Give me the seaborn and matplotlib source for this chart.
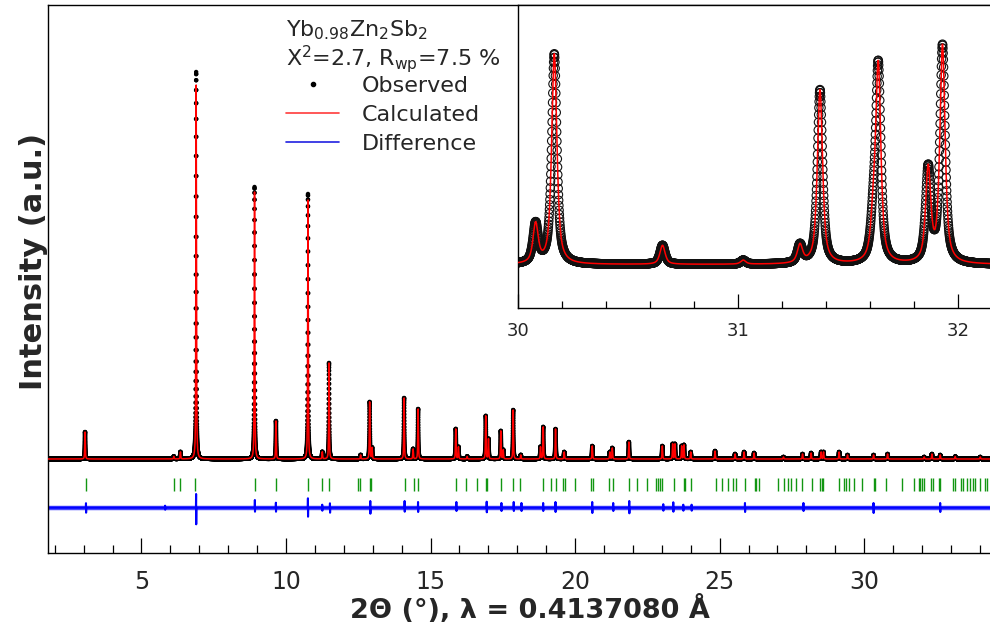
import numpy as np
import pandas as pd
import matplotlib
matplotlib.use("Agg")
import matplotlib.pyplot as plt
import seaborn as sns
from matplotlib.lines import Line2D
from matplotlib.ticker import MultipleLocator

# ------------------------------------------------------------------
# Data
# ------------------------------------------------------------------
# Main pattern: peak positions (2theta, deg) and heights above background (a.u.)
PEAK_POS = [3.048, 6.120, 6.348, 6.892, 8.911, 9.652, 10.760, 11.255, 11.487,
            12.581, 12.893, 12.976, 14.084, 14.396, 14.569, 15.871, 15.964,
            16.265, 16.909, 17.003, 17.429, 17.512, 17.858, 18.121, 18.803,
            18.897, 19.323, 19.624, 20.594, 21.203, 21.286, 21.861, 23.017,
            23.374, 23.454, 23.686, 23.766, 23.999, 24.840, 25.533, 25.845,
            26.191, 27.208, 27.866, 28.164, 28.510, 28.593, 29.132, 29.423,
            30.324, 30.808, 32.076, 32.342, 32.630, 33.149, 34.015]
CALC_H = [27, 2.5, 7, 374, 267, 38, 259, 7, 96,
          4, 57, 11, 61, 10, 50, 30, 12,
          2.5, 43, 20, 28, 9, 49, 4, 12,
          32, 30, 7, 13, 7, 11, 17, 13,
          15, 15, 13, 14, 7, 8, 5, 7,
          6, 2, 5, 6, 7, 7, 7, 4,
          4, 5, 2, 5, 4, 2.5, 2]
OBS_H = [27, 2.5, 7, 387, 272, 38, 265, 7, 96,
         4, 57, 11, 61, 10, 50, 30, 12,
         2.5, 43, 20, 28, 9, 49, 4, 12,
         32, 30, 7, 13, 7, 11, 17, 13,
         15, 15, 13, 14, 7, 8, 5, 7,
         6, 2, 5, 6, 7, 7, 7, 4,
         4, 5, 2, 5, 4, 2.5, 2]
MAIN_FWHM = 0.025
MAIN_ETA = 0.5
MAIN_STEP = 0.001

# Bragg reflection markers (2theta, deg)
HKL_POS = [3.083, 6.120, 6.348, 6.868, 8.925, 9.652, 10.746, 11.255, 11.487,
           12.491, 12.546, 12.893, 12.952, 14.105, 14.416, 14.579, 15.895,
           16.241, 16.598, 16.920, 16.950, 17.429, 17.858, 18.111, 18.897,
           19.160, 19.323, 19.565, 19.645, 19.991, 20.545, 20.614, 21.182,
           21.296, 21.861, 22.138, 22.484, 22.786, 22.855, 22.924, 23.003,
           23.409, 23.766, 23.800, 24.008, 24.863, 25.095, 25.289, 25.452,
           25.556, 25.891, 26.213, 26.272, 26.376, 27.034, 27.242, 27.380,
           27.470, 27.657, 27.851, 28.187, 28.474, 28.533, 28.592, 29.132,
           29.305, 29.354, 29.468, 29.631, 29.929, 30.324, 30.379, 30.760,
           31.304, 31.708, 31.882, 31.937, 31.996, 32.075, 32.318, 32.377,
           32.585, 32.630, 33.059, 33.128, 33.346, 33.416, 33.544, 33.668,
           33.762, 33.842, 34.015, 34.188, 34.247]
HKL_Y = (-32.0, -18.7)

# Difference curve: offset and spikes (position, upward, downward amplitude)
DIFF_OFFSET = -48.7
DIFF_POS = [3.083, 5.819, 6.892, 8.925, 9.652, 10.760, 11.255, 11.522, 12.917,
            14.105, 14.569, 15.895, 16.944, 17.453, 17.879, 18.146, 18.897,
            19.323, 20.594, 21.320, 21.875, 23.052, 23.398, 23.744, 24.032,
            25.878, 27.900, 30.324, 32.630]
DIFF_UP = [4.5, 2, 13.7, 7.7, 5, 9.4, 3, 4.4, 6.7,
           6.7, 5.7, 5.7, 6, 4.7, 5.7, 4.7, 4.7,
           5.7, 5.7, 4.7, 6.7, 3.5, 5.4, 3, 3,
           4.7, 4.7, 4.7, 4.7]
DIFF_DOWN = [5, 2, 16.6, 4, 4, 9, 3, 5, 6,
             4, 4.3, 3.3, 4.6, 3.3, 3.3, 3.3, 3.3,
             4.3, 5.3, 3.3, 5.6, 3, 4, 3, 3,
             4.3, 3.3, 5.3, 4.3]

# Inset (30-32 deg) peaks
INSET_POS = [30.080, 30.165, 30.657, 31.024, 31.282, 31.373, 31.615, 31.638, 31.865, 31.930]
INSET_H = [39, 210, 19, 4, 18, 174, 35, 195, 93, 217]
INSET_BG = 43.5
INSET_FWHM = 0.028
INSET_ETA = 0.7

TITLE_LINES = ['Yb$_{0.98}$Zn$_2$Sb$_2$', '\u03a7$^2$=2.7, R$_{\\rm wp}$=7.5 %']
LABELS = ['Observed', 'Calculated', 'Difference']
XLABEL = '2\u0398 (\u00b0), \u03bb = 0.4137080 \u00c5'
YLABEL = 'Intensity (a.u.)'


def pseudo_voigt(x, pos, h, fwhm, eta):
    y = np.zeros_like(x)
    for p, a in zip(pos, h):
        d = (x - p) / fwhm
        lor = 1.0 / (1.0 + 4.0 * d ** 2)
        gau = np.exp(-4.0 * np.log(2.0) * d ** 2)
        y += a * (eta * lor + (1 - eta) * gau)
    return y


# ------------------------------------------------------------------
sns.set_theme(style="white")
plt.rcParams['font.family'] = ['DejaVu Sans']
plt.rcParams['mathtext.fontset'] = 'dejavusans'

W, H = 990, 635
fig = plt.figure(figsize=(W / 100, H / 100), dpi=100)

ax = fig.add_axes([48 / W, 1 - 553 / H, (W - 48) / W + 0.002, 548 / H])

tt = np.arange(1.70, 34.60, MAIN_STEP)
main_df = pd.DataFrame({
    'tth': tt,
    'obs': pseudo_voigt(tt, PEAK_POS, OBS_H, MAIN_FWHM, MAIN_ETA),
    'calc': pseudo_voigt(tt, PEAK_POS, CALC_H, MAIN_FWHM, MAIN_ETA),
})

sns.scatterplot(data=main_df, x='tth', y='obs', ax=ax, color='black', s=10,
                edgecolor='none', linewidth=0, legend=False, zorder=2)
sns.lineplot(data=main_df, x='tth', y='calc', ax=ax, color='red', lw=1.1,
             estimator=None, sort=False, legend=False, zorder=3)

# reflection markers
ax.vlines(HKL_POS, HKL_Y[0], HKL_Y[1], color='#129612', lw=1.0, zorder=2)

# difference curve
dx, dy = [1.70], [DIFF_OFFSET]
for p, u, d in zip(DIFF_POS, DIFF_UP, DIFF_DOWN):
    dx += [p - 0.008, p - 0.002, p + 0.002, p + 0.008]
    dy += [DIFF_OFFSET, DIFF_OFFSET + u, DIFF_OFFSET - d, DIFF_OFFSET]
dx.append(34.60)
dy.append(DIFF_OFFSET)
diff_df = pd.DataFrame({'tth': dx, 'diff': dy})
ax.axhline(DIFF_OFFSET, color='#1e1eff', lw=3.2, alpha=0.8, zorder=1)
sns.lineplot(data=diff_df, x='tth', y='diff', ax=ax, color='blue', lw=1.5,
             estimator=None, sort=False, legend=False, zorder=2)

ax.set_xlim(1.767, 34.42)
ax.set_ylim(-94, 454)
ax.set_yticks([])
ax.xaxis.set_major_locator(MultipleLocator(5))
ax.xaxis.set_minor_locator(MultipleLocator(1))
ax.tick_params(axis='x', which='both', direction='in', bottom=True, top=False,
               color='black', width=0.9)
ax.tick_params(axis='x', which='major', length=10.5, labelsize=17, pad=12)
ax.tick_params(axis='x', which='minor', length=6)
for s in ['left', 'top', 'bottom']:
    ax.spines[s].set_color('black')
    ax.spines[s].set_linewidth(1.0)
ax.spines['right'].set_visible(False)

ax.set_xlabel(XLABEL, fontsize=19.5, fontweight='bold')
ax.xaxis.set_label_coords((529 - 48) / 942, -(595 - 553) / 548)
ax.set_ylabel(YLABEL, fontsize=22, fontweight='bold')
ax.yaxis.set_label_coords(0.0, (553 - 261) / 548)

# legend title lines and legend entries
fig.text(286 / W, 1 - 36 / H, TITLE_LINES[0], fontsize=16, va='baseline', ha='left')
fig.text(286 / W, 1 - 66 / H, TITLE_LINES[1], fontsize=16, va='baseline', ha='left')
handles = [
    Line2D([], [], marker='o', ls='none', color='black', markersize=3),
    Line2D([], [], color='#ff3b3b', lw=1.2),
    Line2D([], [], color='#2020e0', lw=1.2),
]
leg = ax.legend(handles, LABELS, loc='upper left',
                bbox_to_anchor=(286 / W, 1 - 76 / H), bbox_transform=fig.transFigure,
                frameon=False, fontsize=16, numpoints=1,
                handlelength=2.4, handletextpad=1.0, labelspacing=0.405,
                borderpad=0, borderaxespad=0)

# ---------------- inset ----------------
axi = fig.add_axes([518 / W, 1 - 308 / H, (W - 518) / W + 0.002, 303 / H])
axi.set_facecolor('white')
ti = np.arange(29.99, 32.17, MAIN_STEP)
inset_df = pd.DataFrame({
    'tth': ti,
    'calc': INSET_BG + pseudo_voigt(ti, INSET_POS, INSET_H, INSET_FWHM, INSET_ETA),
})
sns.scatterplot(data=inset_df, x='tth', y='calc', ax=axi, marker='o', s=36,
                facecolor='none', edgecolor='#111111', linewidth=0.8,
                legend=False, zorder=2)
sns.lineplot(data=inset_df, x='tth', y='calc', ax=axi, color='red', lw=1.1,
             estimator=None, sort=False, legend=False, zorder=3)
axi.set_xlim(30.0, 32.155)
axi.set_ylim(0, 303)
axi.set_yticks([])
axi.set_xlabel('')
axi.set_ylabel('')
axi.xaxis.set_major_locator(MultipleLocator(1))
axi.xaxis.set_minor_locator(MultipleLocator(0.2))
axi.tick_params(axis='x', which='both', direction='in', bottom=True, top=False,
                color='black', width=0.9)
axi.tick_params(axis='x', which='major', length=10, labelsize=13, pad=10)
axi.tick_params(axis='x', which='minor', length=5)
for s in ['left', 'top', 'bottom']:
    axi.spines[s].set_color('black')
    axi.spines[s].set_linewidth(1.0)
axi.spines['right'].set_visible(False)

fig.savefig('out.png', dpi=100)
